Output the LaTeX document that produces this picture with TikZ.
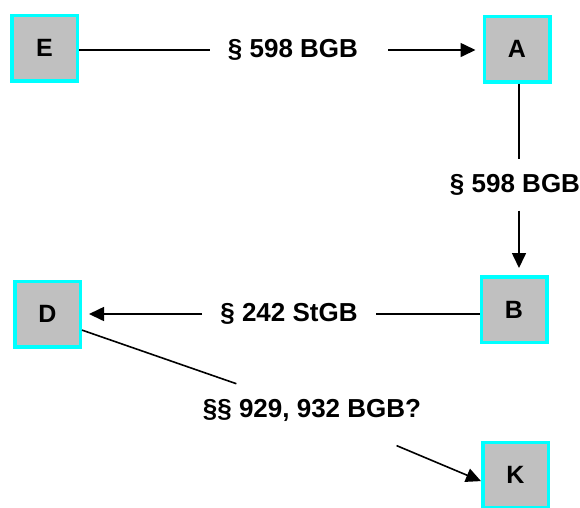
\documentclass[tikz,border=0pt]{standalone}
\usepackage{fontspec}
\setmainfont{Liberation Sans}
\usepackage{tikz}
\usetikzlibrary{
    arrows.meta,
    positioning
}
\definecolor{BoxGray}{RGB}{192,192,192}
\definecolor{BoxCyan}{RGB}{0,255,255}
\tikzset{
    partybox/.style={
        draw=BoxCyan,
        fill=BoxGray,
        line width=3.5pt,
        minimum size=65.5pt,
        inner sep=0pt,
        font=\fontsize{25}{29}\selectfont\bfseries
    },
    lawlabel/.style={
        inner xsep=18pt,
        inner ysep=15pt,
        font=\fontsize{26}{30}\selectfont\bfseries
    },
    link/.style={
        line width=1.6pt
    },
    linktip/.style={
        link,
        -{Triangle[length=15pt,width=14pt]}
    }
}

\begin{document}
\begin{tikzpicture}[x=1pt,y=-1pt]
%
    \useasboundingbox (0,0) rectangle (580,507);
%
    \node[partybox] (E) at (44.5,48) {E};
    \node[partybox] (A) at (517,49) {A};
    \node[partybox] (B) at (514,309.5) {B};
    \node[partybox] (D) at (47.5,314) {D};
    \node[partybox] (K) at (515.5,475) {K};
%
    \node[lawlabel] (lEA) at (293,50) {\S{} 598 BGB};
    \node[lawlabel] (lAB) at (515,185) {\S{} 598 BGB};
    \node[lawlabel] (lBD) at (289,314) {\S{} 242 StGB};
    \node[lawlabel] (lDK) at (312,410) {\S\S{} 929, 932 BGB?};
%
    \draw[link]
    (E.east |- lEA)
    --
    (lEA);
    \draw[
        linktip,
        shorten <=12pt,
        shorten >=7pt
    ]
    (lEA)
    --
    (A.west |- lEA);
%
    \draw[link]
    (A.south -| 519,0)
    --
    (lAB.north -| 519,0);
    \draw[
        linktip,
        shorten >=7pt
    ]
    (lAB.south -| 519,0)
    --
    (B.north -| 519,0);
%
    \draw[link]
    (B.west |- lBD)
    --
    (lBD);
    \draw[
        linktip,
        shorten >=7pt
    ]
    (lBD)
    --
    (D.east |- lBD);
%
    \draw[link]
    (D.-25)
    --
    (lDK);
    \draw[
        linktip,
        shorten <=24pt
    ]
    (lDK)
    --
    (K.190);
%
\end{tikzpicture}
\end{document}
